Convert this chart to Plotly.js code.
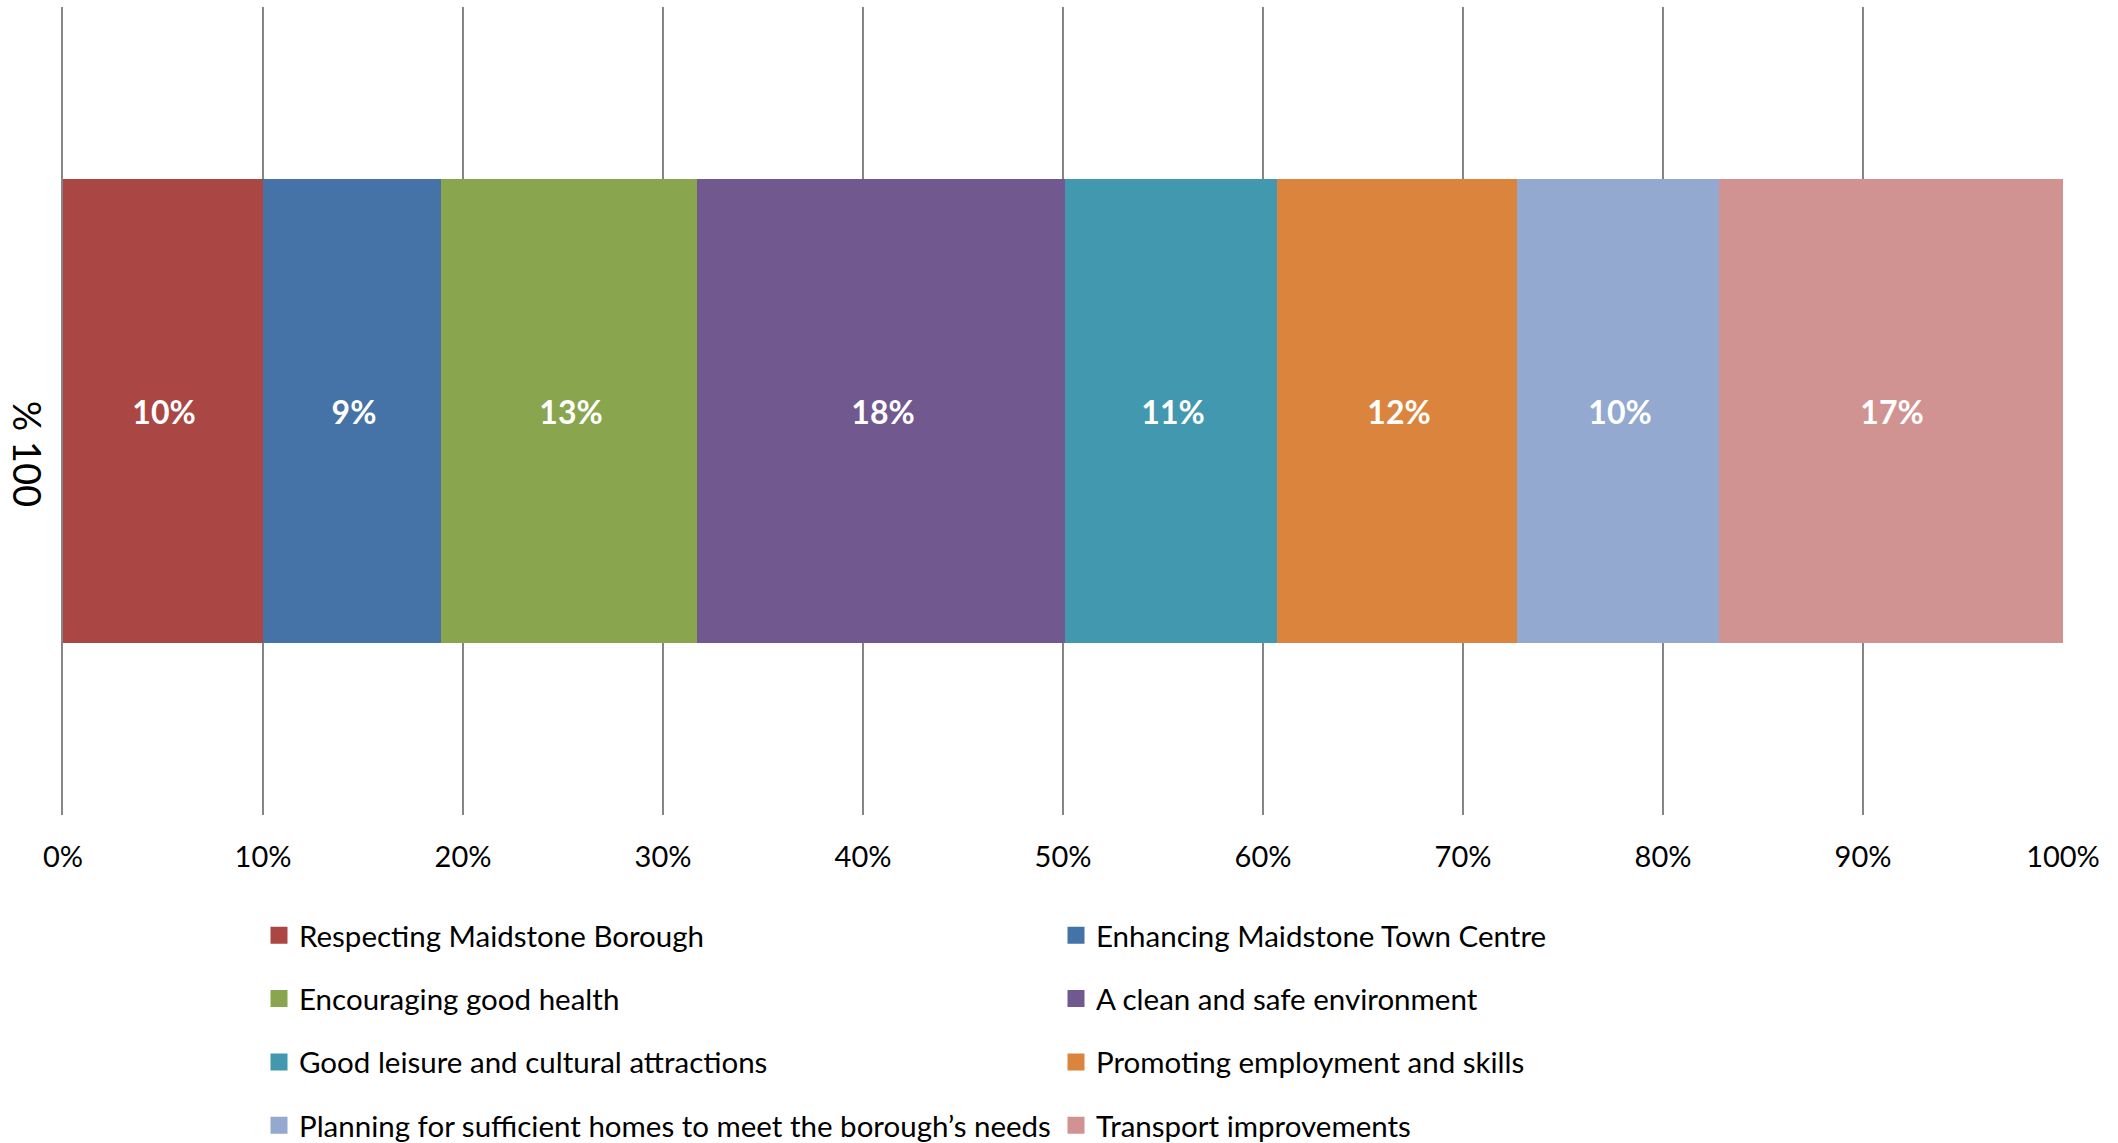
<!DOCTYPE html>
<html>
<head>
<meta charset="utf-8">
<script src="https://cdn.plot.ly/plotly-3.0.1.min.js"></script>
<style>html,body{margin:0;padding:0;background:#fff;}#chart{width:2118px;height:1143px;}</style>
</head>
<body>
<div id="chart"></div>
<script>
const category = ["\u00a0\u00a0\u00a0\u00a0\u00a0\u00a0\u00a0\u00a0\u00a0\u00a0% 100"];
const seriesNames = [
  "Respecting Maidstone Borough",
  "Enhancing Maidstone Town Centre",
  "Encouraging good health",
  "A clean and safe environment",
  "Good leisure and cultural attractions",
  "Promoting employment and skills",
  "Planning for sufficient homes to meet the borough\u2019s needs",
  "Transport improvements"
];
const seriesValues = [10.1, 8.9, 12.8, 18.4, 10.6, 12.0, 10.1, 17.1];
const seriesColors = ["#AA4744", "#4572A7", "#89A54E", "#71588F", "#4198AF", "#DB843D", "#93A9CF", "#D19392"];
const legendColumn = ["legend", "legend2", "legend", "legend2", "legend", "legend2", "legend", "legend2"];
const xTickVals = [0, 10, 20, 30, 40, 50, 60, 70, 80, 90, 100];
const xTickText = ["0%", "10%", "20%", "30%", "40%", "50%", "60%", "70%", "80%", "90%", "100%"];

const FONT = "'Liberation Sans Narrow', 'Arial Narrow', Lato, sans-serif";

const traces = seriesNames.map((name, i) => ({
  type: "bar",
  orientation: "h",
  name: name,
  y: category,
  x: [seriesValues[i]],
  marker: {color: seriesColors[i], line: {width: 5, color: seriesColors[i]}},
  text: [Math.round(seriesValues[i]) + "%"],
  textposition: "inside",
  insidetextanchor: "middle",
  textfont: {color: "#ffffff", size: 32, family: FONT, weight: "bold"},
  hoverinfo: "name+x",
  legend: legendColumn[i],
  legendgroup: "g" + i
}));

const layout = {
  width: 2118,
  height: 1143,
  paper_bgcolor: "#ffffff",
  plot_bgcolor: "#ffffff",
  barmode: "stack",
  bargap: 0.432,
  margin: {l: 63, r: 55, t: 7, b: 328, pad: 0, autoexpand: false},
  font: {family: FONT, color: "#000000", size: 30},
  xaxis: {
    range: [0, 100],
    tickvals: xTickVals,
    ticktext: xTickText,
    showgrid: true,
    gridcolor: "#868686",
    gridwidth: 1.5,
    zeroline: false,
    showline: false,
    ticks: "",
    ticklabelstandoff: 22,
    tickfont: {size: 29, family: FONT, color: "#000"}
  },
  yaxis: {
    type: "category",
    range: [-0.5, 0.5],
    showgrid: false,
    zeroline: false,
    showline: true,
    linecolor: "#868686",
    linewidth: 2,
    ticks: "",
    tickangle: 90,
    ticklabelstandoff: 2,
    tickfont: {size: 38, family: FONT, color: "#000"}
  },
  showlegend: true,
  legend: {
    x: 0.098, xanchor: "left", y: -0.117, yanchor: "top",
    orientation: "v", traceorder: "grouped", tracegroupgap: 22,
    font: {size: 29.5, family: FONT, color: "#000"},
    bgcolor: "rgba(0,0,0,0)", itemwidth: 30
  },
  legend2: {
    x: 0.4965, xanchor: "left", y: -0.117, yanchor: "top",
    orientation: "v", traceorder: "grouped", tracegroupgap: 22,
    font: {size: 29.5, family: FONT, color: "#000"},
    bgcolor: "rgba(0,0,0,0)", itemwidth: 30
  }
};

Plotly.newPlot("chart", traces, layout, {displayModeBar: false, staticPlot: true});
</script>
</body>
</html>
